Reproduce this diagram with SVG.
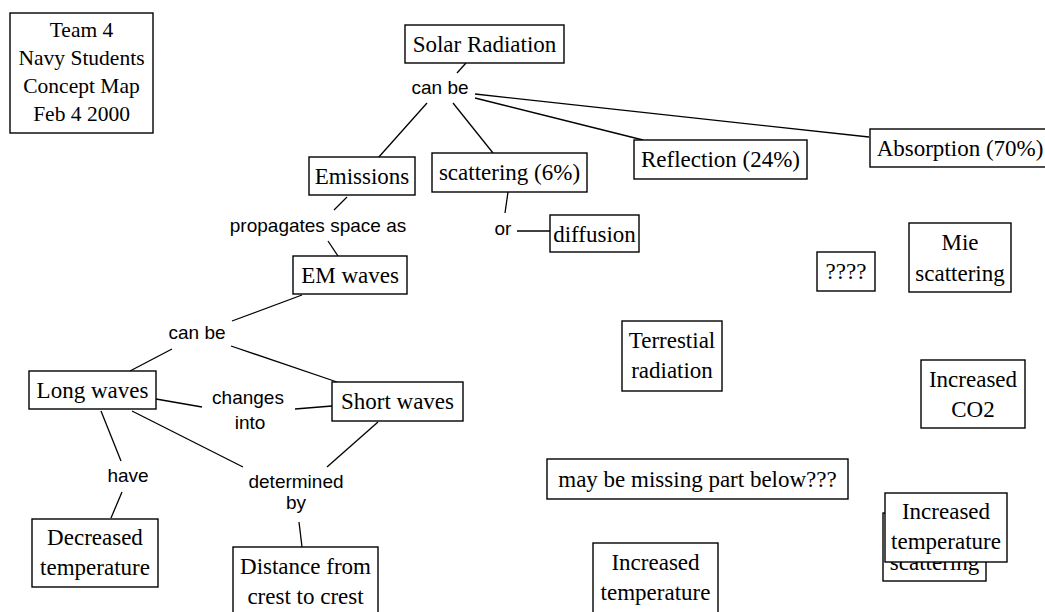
<svg xmlns="http://www.w3.org/2000/svg" width="1045" height="612" viewBox="0 0 1045 612">
<style>
.box{fill:#fff;stroke:#000;stroke-width:1.4}
.t{font-family:"Liberation Serif","Times New Roman",serif;font-size:23px;fill:#000;text-anchor:middle}
.tt{font-family:"Liberation Serif","Times New Roman",serif;font-size:21.5px;fill:#000;text-anchor:middle}
.l{font-family:"Liberation Sans",Arial,sans-serif;font-size:19px;fill:#000;text-anchor:middle}
.c line{stroke:#000;stroke-width:1.3}
</style>
<rect width="1045" height="612" fill="#fff"/>
<g id="connectors" class="c">
<line x1="466" y1="63" x2="457" y2="73"/>
<line x1="475" y1="94" x2="869" y2="137"/>
<line x1="475" y1="98" x2="643" y2="140"/>
<line x1="427" y1="103" x2="378" y2="158"/>
<line x1="453" y1="103" x2="493" y2="153"/>
<line x1="508" y1="192" x2="505" y2="213"/>
<line x1="517" y1="231" x2="550" y2="231"/>
<line x1="347" y1="197" x2="334" y2="210"/>
<line x1="328" y1="241" x2="338" y2="256"/>
<line x1="302" y1="295" x2="232" y2="321"/>
<line x1="172" y1="349" x2="130" y2="371"/>
<line x1="231" y1="346" x2="337" y2="382"/>
<line x1="156" y1="399" x2="202" y2="407"/>
<line x1="295" y1="409" x2="332" y2="406"/>
<line x1="132" y1="411" x2="243" y2="467"/>
<line x1="378" y1="422" x2="327" y2="467"/>
<line x1="299" y1="522" x2="302" y2="547"/>
<line x1="101" y1="411" x2="121" y2="461"/>
<line x1="122" y1="492" x2="111" y2="518"/>
</g>
<g id="labels">
<text class="l" x="440" y="94">can be</text>
<text class="l" x="318" y="232">propagates space as</text>
<text class="l" x="503" y="235">or</text>
<text class="l" x="197" y="339">can be</text>
<text class="l" x="248" y="404">changes</text>
<text class="l" x="250" y="429">into</text>
<text class="l" x="128" y="482">have</text>
<text class="l" x="296" y="488">determined</text>
<text class="l" x="296" y="509">by</text>
</g>
<g id="title"><rect class="box" x="10" y="13" width="143" height="120" stroke-width="1.8"/>
<text class="tt" x="81.5" y="37">Team 4</text>
<text class="tt" x="81.5" y="65">Navy Students</text>
<text class="tt" x="81.5" y="93">Concept Map</text>
<text class="tt" x="81.5" y="121">Feb 4 2000</text></g>
<g id="solar"><rect class="box" x="405" y="25" width="159" height="38"/><text class="t" x="484.5" y="52">Solar Radiation</text></g>
<g id="emissions"><rect class="box" x="309" y="157" width="106" height="38"/><text class="t" x="362" y="184">Emissions</text></g>
<g id="scattering"><rect class="box" x="432" y="153" width="155" height="39"/><text class="t" x="509.5" y="180">scattering (6%)</text></g>
<g id="reflection"><rect class="box" x="634" y="140" width="173" height="39"/><text class="t" x="720.5" y="167">Reflection (24%)</text></g>
<g id="absorption"><rect class="box" x="870" y="129" width="180" height="38"/><text class="t" x="960" y="156">Absorption (70%)</text></g>
<g id="diffusion"><rect class="box" x="550" y="215" width="89" height="37"/><text class="t" x="594.5" y="242">diffusion</text></g>
<g id="emwaves"><rect class="box" x="293" y="256" width="114" height="38"/><text class="t" x="350" y="283">EM waves</text></g>
<g id="qqqq"><rect class="box" x="817" y="252" width="58" height="39"/><text class="t" x="846" y="279">????</text></g>
<g id="mie"><rect class="box" x="909" y="223" width="102" height="69"/><text class="t" x="960" y="250">Mie</text><text class="t" x="960" y="281">scattering</text></g>
<g id="terrestial"><rect class="box" x="622" y="321" width="100" height="70"/><text class="t" x="672" y="348">Terrestial</text><text class="t" x="672" y="378">radiation</text></g>
<g id="co2"><rect class="box" x="921" y="360" width="104" height="68"/><text class="t" x="973" y="387">Increased</text><text class="t" x="973" y="417">CO2</text></g>
<g id="longwaves"><rect class="box" x="29" y="371" width="127" height="38"/><text class="t" x="92.5" y="398">Long waves</text></g>
<g id="shortwaves"><rect class="box" x="332" y="382" width="131" height="39"/><text class="t" x="397.5" y="409">Short waves</text></g>
<g id="missing"><rect class="box" x="547" y="459" width="301" height="40"/><text class="t" x="697.5" y="487">may be missing part below???</text></g>
<g id="decreased"><rect class="box" x="32" y="519" width="126" height="68"/><text class="t" x="95" y="545">Decreased</text><text class="t" x="95" y="575">temperature</text></g>
<g id="distance"><rect class="box" x="233" y="547" width="145" height="80"/><text class="t" x="305.5" y="574">Distance from</text><text class="t" x="305.5" y="604">crest to crest</text></g>
<g id="inctemp1"><rect class="box" x="593" y="543" width="125" height="80"/><text class="t" x="655.5" y="570">Increased</text><text class="t" x="655.5" y="600">temperature</text></g>
<g id="backscatter"><rect class="box" x="883" y="513" width="103" height="68"/><text class="t" x="934.5" y="570">scattering</text></g>
<g id="inctemp2"><rect class="box" x="885" y="493" width="122" height="69"/><text class="t" x="946" y="519">Increased</text><text class="t" x="946" y="549">temperature</text></g>
</svg>
